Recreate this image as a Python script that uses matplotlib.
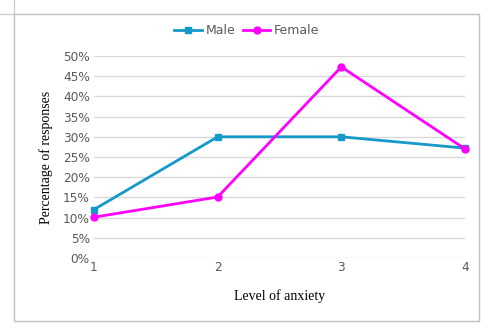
import matplotlib.pyplot as plt
from matplotlib.lines import Line2D
from matplotlib.patches import Rectangle
from matplotlib.ticker import PercentFormatter

levels = [1, 2, 3, 4]
male = [0.12, 0.30, 0.30, 0.272]
female = [0.101, 0.151, 0.473, 0.27]
yticks = [0, 0.05, 0.10, 0.15, 0.20, 0.25, 0.30, 0.35, 0.40, 0.45, 0.50]

fig = plt.figure(figsize=(4.87, 3.30), dpi=100)
fig.patches.append(Rectangle((14 / 487, 1 - 321 / 330), 465 / 487, 307 / 330,
                             transform=fig.transFigure, fill=False,
                             edgecolor='#c0c0c0', linewidth=1))
# page corner marks
fig.lines.append(Line2D([14 / 487, 14 / 487], [1 - 14 / 330, 1], color='#c8c8c8',
                        linewidth=0.8, transform=fig.transFigure))
fig.lines.append(Line2D([0, 14 / 487], [1 - 13.5 / 330, 1 - 13.5 / 330],
                        color='#c8c8c8', linewidth=0.8, transform=fig.transFigure))

ax = fig.add_axes([94 / 487, 1 - 258 / 330, 371 / 487, 202 / 330])
ax.plot(levels, male, color='#1499c9', linewidth=2, marker='s', markersize=5,
        label='Male', clip_on=False, zorder=3)
ax.plot(levels, female, color='#ff00ff', linewidth=2, marker='o', markersize=5,
        label='Female', clip_on=False, zorder=3)

ax.set_xlim(1, 4)
ax.set_ylim(0, 0.5)
ax.set_xticks(levels)
ax.set_yticks(yticks)
ax.yaxis.set_major_formatter(PercentFormatter(1.0, decimals=0))
ax.grid(axis='y', color='#d9d9d9', linewidth=1)
ax.set_axisbelow(True)
for s in ax.spines.values():
    s.set_visible(False)
ax.tick_params(length=0, labelsize=8.7, labelcolor='#595959', pad=3)
ax.tick_params(axis='x', pad=2)

ax.set_xlabel('Level of anxiety', family='Liberation Serif', fontsize=10,
              labelpad=11)
ax.set_ylabel('Percentage of responses', family='Liberation Serif', fontsize=10,
              labelpad=7)

fig.legend(loc='center', bbox_to_anchor=(247 / 487, 1 - 31 / 330), ncol=2,
           frameon=False, fontsize=9, labelcolor='#595959',
           handlelength=2.2, columnspacing=0.6, handletextpad=0.3)

fig.savefig('out.png', dpi=100)
